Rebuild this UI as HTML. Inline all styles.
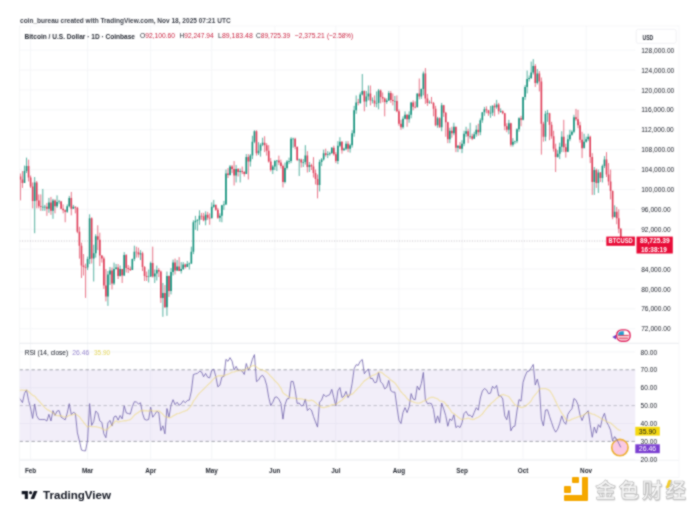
<!DOCTYPE html>
<html><head><meta charset="utf-8"><style>
html,body{margin:0;padding:0;background:#fff;}
body{width:700px;height:515px;overflow:hidden;position:relative;}
svg{position:absolute;left:0;top:0;}
#w{position:absolute;left:0;top:0;width:700px;height:515px;filter:url(#bl);}
.wm{position:absolute;left:595.3px;top:481.4px;font-size:20.5px;line-height:1;white-space:nowrap;font-family:"Liberation Sans","Noto Sans CJK SC","WenQuanYi Zen Hei",sans-serif;font-weight:bold;color:#f6f6f6;letter-spacing:2.9px;-webkit-text-stroke:0.7px #bdbdbd;text-shadow:0.5px 1.2px 1.2px rgba(0,0,0,.28);}
.lg{position:absolute;background:#F5A800;border-radius:1px;}
</style></head><body><svg width="0" height="0" style="position:absolute"><filter id="bl" x="0" y="0" width="700" height="515" filterUnits="userSpaceOnUse" color-interpolation-filters="sRGB"><feConvolveMatrix order="3" kernelMatrix="1 2 1 2 8 2 1 2 1" divisor="20" edgeMode="duplicate"/></filter></svg><div id="w">
<svg width="700" height="515" viewBox="0 0 700 515" font-family="Liberation Sans, Arial, sans-serif">
<defs><clipPath id="pc"><rect x="19.5" y="26.0" width="615.8" height="434.3"/></clipPath></defs>
<line x1="30.6" y1="26.0" x2="30.6" y2="460.3" stroke="#F3F4F6" stroke-width="0.8"/>
<line x1="87.58" y1="26.0" x2="87.58" y2="460.3" stroke="#F3F4F6" stroke-width="0.8"/>
<line x1="150.67" y1="26.0" x2="150.67" y2="460.3" stroke="#F3F4F6" stroke-width="0.8"/>
<line x1="211.72" y1="26.0" x2="211.72" y2="460.3" stroke="#F3F4F6" stroke-width="0.8"/>
<line x1="274.8" y1="26.0" x2="274.8" y2="460.3" stroke="#F3F4F6" stroke-width="0.8"/>
<line x1="335.85" y1="26.0" x2="335.85" y2="460.3" stroke="#F3F4F6" stroke-width="0.8"/>
<line x1="398.94" y1="26.0" x2="398.94" y2="460.3" stroke="#F3F4F6" stroke-width="0.8"/>
<line x1="462.02" y1="26.0" x2="462.02" y2="460.3" stroke="#F3F4F6" stroke-width="0.8"/>
<line x1="523.07" y1="26.0" x2="523.07" y2="460.3" stroke="#F3F4F6" stroke-width="0.8"/>
<line x1="586.16" y1="26.0" x2="586.16" y2="460.3" stroke="#F3F4F6" stroke-width="0.8"/>
<line x1="19.5" y1="328.75" x2="635.3" y2="328.75" stroke="#F3F4F6" stroke-width="0.8"/>
<line x1="19.5" y1="308.85" x2="635.3" y2="308.85" stroke="#F3F4F6" stroke-width="0.8"/>
<line x1="19.5" y1="288.95" x2="635.3" y2="288.95" stroke="#F3F4F6" stroke-width="0.8"/>
<line x1="19.5" y1="269.05" x2="635.3" y2="269.05" stroke="#F3F4F6" stroke-width="0.8"/>
<line x1="19.5" y1="249.15" x2="635.3" y2="249.15" stroke="#F3F4F6" stroke-width="0.8"/>
<line x1="19.5" y1="229.25" x2="635.3" y2="229.25" stroke="#F3F4F6" stroke-width="0.8"/>
<line x1="19.5" y1="209.35" x2="635.3" y2="209.35" stroke="#F3F4F6" stroke-width="0.8"/>
<line x1="19.5" y1="189.45" x2="635.3" y2="189.45" stroke="#F3F4F6" stroke-width="0.8"/>
<line x1="19.5" y1="169.55" x2="635.3" y2="169.55" stroke="#F3F4F6" stroke-width="0.8"/>
<line x1="19.5" y1="149.65" x2="635.3" y2="149.65" stroke="#F3F4F6" stroke-width="0.8"/>
<line x1="19.5" y1="129.75" x2="635.3" y2="129.75" stroke="#F3F4F6" stroke-width="0.8"/>
<line x1="19.5" y1="109.85" x2="635.3" y2="109.85" stroke="#F3F4F6" stroke-width="0.8"/>
<line x1="19.5" y1="89.95" x2="635.3" y2="89.95" stroke="#F3F4F6" stroke-width="0.8"/>
<line x1="19.5" y1="70.05" x2="635.3" y2="70.05" stroke="#F3F4F6" stroke-width="0.8"/>
<line x1="19.5" y1="50.15" x2="635.3" y2="50.15" stroke="#F3F4F6" stroke-width="0.8"/>
<line x1="19.5" y1="351.9" x2="635.3" y2="351.9" stroke="#F3F4F6" stroke-width="0.8"/>
<line x1="19.5" y1="387.7" x2="635.3" y2="387.7" stroke="#F3F4F6" stroke-width="0.8"/>
<line x1="19.5" y1="423.5" x2="635.3" y2="423.5" stroke="#F3F4F6" stroke-width="0.8"/>
<line x1="19.5" y1="459.3" x2="635.3" y2="459.3" stroke="#F3F4F6" stroke-width="0.8"/>
<rect x="19.5" y="369.8" width="615.8" height="71.6" fill="#7E57C2" fill-opacity="0.1"/>
<line x1="19.5" y1="369.8" x2="635.3" y2="369.8" stroke="#8A8D96" stroke-opacity="0.85" stroke-width="0.9" stroke-dasharray="3.4 2.6"/>
<line x1="19.5" y1="405.6" x2="635.3" y2="405.6" stroke="#8A8D96" stroke-opacity="0.55" stroke-width="0.9" stroke-dasharray="3.4 2.6"/>
<line x1="19.5" y1="441.4" x2="635.3" y2="441.4" stroke="#8A8D96" stroke-opacity="0.85" stroke-width="0.9" stroke-dasharray="3.4 2.6"/>
<line x1="19.5" y1="241" x2="635.3" y2="241" stroke="#A9A3AD" stroke-width="0.8" stroke-dasharray="1 1.6" stroke-opacity="0.9"/>
<g clip-path="url(#pc)">
<path d="M24.5 165.57V182.98M26.53 157.61V173.03M34.67 177.01V233.23M42.81 188.95V210.84M44.84 204.87V210.84M48.92 197.91V212.83M52.98 198.9V218.8M57.06 195.42V207.86M59.09 199.9V203.88M67.23 204.38V212.83M69.27 195.92V207.36M73.34 204.87V208.85M87.58 256.61V270.05M89.62 214.32V264.07M93.69 244.67V281.49M95.72 234.22V257.61M107.93 271.04V305.87M109.97 267.06V284.97M114.03 262.58V284.97M116.07 264.07V269.55M120.14 265.57V276.51M124.21 252.13V276.01M132.35 258.6V270.05M134.39 245.67V261.09M140.49 250.15V260.09M148.63 269.55V282.48M150.67 261.59V277.01M154.74 269.55V282.98M156.77 265.57V280.49M162.88 282.98V316.81M166.94 271.54V315.81M171.02 268.05V294.42M173.05 259.6V275.52M177.12 260.09V271.04M181.19 262.08V273.53M183.22 262.08V270.05M187.3 261.09V267.06M189.33 262.58V269.55M191.37 246.66V264.07M193.4 220.3V254.12M195.44 215.82V229.75M197.47 219.3V230.74M199.5 210.34V224.77M205.61 211.34V225.27M211.72 202.38V218.3M213.75 199.9V207.86M219.86 213.33V221.79M221.89 204.87V222.28M223.93 200.89V209.85M225.96 169.55V204.87M230.03 165.07V175.52M236.14 165.07V182.48M240.21 168.55V182.48M246.31 154.13V174.03M250.38 154.13V166.57M252.42 135.72V159.1M254.45 130.25V143.18M258.52 142.19V155.12M260.56 143.18V156.62M262.59 137.71V146.17M272.77 165.07V174.03M274.8 160.1V170.05M276.84 160.1V171.04M284.98 162.58V183.48M287.01 160.1V169.55M289.05 157.61V164.08M291.08 137.21V163.08M293.12 137.71V147.66M299.22 158.6V176.02M303.29 159.1V167.06M305.33 145.17V164.57M309.4 162.09V172.04M319.57 159.6V191.44M321.61 158.11V166.07M323.64 149.65V160.59M327.71 151.14V158.11M329.75 151.64V155.62M331.78 147.16V153.63M337.89 141.19V164.08M339.92 137.21V147.16M343.99 147.66V150.65M346.03 141.19V150.15M350.1 143.68V152.63M352.13 130.25V147.66M354.17 105.87V136.72M356.2 95.42V113.83M360.27 92.44V103.88M362.31 74.03V95.42M366.38 90.95V106.87M368.41 85.47V100.4M372.48 97.41V103.38M376.55 91.44V107.36M378.59 88.95V109.35M386.73 98.41V103.88M388.76 90.95V100.9M394.87 95.92V110.84M403.01 116.32V128.75M405.04 111.34V119.3M409.11 111.34V122.78M411.15 101.89V118.31M417.25 93.43V107.36M421.32 88.46V98.9M423.36 71.54V95.42M429.46 100.4V103.88M437.6 116.82V127.76M441.67 102.88V131.24M449.81 127.76V143.18M453.88 122.78V135.22M457.95 145.17V152.14M462.02 140.2V153.13M464.06 130.75V146.17M466.09 126.77V136.72M470.16 122.78V138.7M474.23 131.74V138.7M476.27 125.27V136.72M480.34 118.31V135.22M482.37 112.34V122.78M484.41 106.87V115.82M490.51 105.87V117.81M492.55 105.37V115.82M496.62 99.9V108.85M500.69 108.36V112.83M508.83 119.8V134.23M512.89 138.21V146.67M514.93 140.69V144.18M516.97 128.26V143.18M519 117.31V131.74M523.07 96.92V120.3M525.11 84.97V99.9M527.14 70.55V93.43M529.18 75.52V81.49M531.21 61.59V79M533.25 59.1V74.53M537.32 69.05V84.48M545.46 110.84V141.19M547.49 109.85V121.79M557.67 150.15V157.61M559.7 142.68V159.1M561.74 131.24V152.14M567.84 134.72V152.14M569.88 129.75V141.19M571.91 130.25V135.72M573.95 114.82V133.23M584.12 133.73V146.17M586.16 136.72V142.68M588.19 133.73V141.19M594.3 167.06V194.92M598.37 169.55V192.93M602.44 164.57V182.48M604.47 156.12V168.06M614.65 205.37V216.32" stroke="#10907A" stroke-width="0.7" fill="none"/>
<path d="M20.43 173.53V200.4M22.46 171.04V187.96M28.57 159.6V181.49M30.6 175.52V187.96M32.64 182.48V208.35M36.7 180.99V208.35M38.74 194.42V208.35M40.78 194.42V210.84M46.88 202.88V215.82M50.95 196.91V214.82M55.02 199.4V213.33M61.12 200.89V209.35M63.16 204.38V213.33M65.19 209.35V222.28M71.3 191.94V215.32M75.37 206.37V213.33M77.41 206.86V233.23M79.44 226.76V258.6M81.47 242.68V278M83.51 254.12V275.52M85.55 263.58V297.9M91.65 217.31V263.58M97.75 225.27V250.15M99.79 232.73V266.06M101.83 255.12V262.58M103.86 256.61V288.95M105.9 269.05V301.39M112 267.56V289.45M118.11 264.07V279M122.18 269.55V282.98M126.25 254.12V272.53M128.28 265.07V273.03M130.31 266.56V271.04M136.42 246.66V257.61M138.46 247.66V257.61M142.53 251.64V271.04M144.56 266.06V280.99M146.59 271.54V280.99M152.7 246.66V277.51M158.81 268.05V277.01M160.84 270.54V302.88M164.91 284.97V307.85M168.98 275.52V296.91M175.09 258.6V274.52M179.16 257.11V271.04M185.26 263.58V268.55M201.54 212.83V219.8M203.58 212.83V221.29M207.65 211.84V219.8M209.68 213.33V224.77M215.78 204.87V210.84M217.82 207.86V218.8M228 168.06V178.01M232.06 165.07V173.03M234.1 161.09V185.47M238.17 168.06V176.52M242.24 166.57V174.03M244.28 171.04V176.52M248.34 154.13V179.5M256.49 130.25V155.62M264.62 136.22V152.14M266.66 143.18V155.62M268.7 145.17V162.58M270.73 158.11V171.54M278.87 155.62V165.07M280.91 159.6V168.55M282.94 164.57V187.46M295.15 137.71V149.15M297.19 146.67V161.09M301.26 158.6V167.56M307.36 151.14V172.53M311.43 163.58V170.05M313.47 157.11V177.51M315.5 169.55V184.47M317.54 174.52V198.4M325.68 148.65V156.62M333.82 145.67V155.62M335.85 152.14V163.08M341.96 141.19V153.63M348.06 141.19V152.14M358.24 98.9V105.37M364.34 90.45V111.34M370.45 85.47V105.37M374.52 95.42V106.87M380.62 89.45V103.38M382.66 92.44V102.39M384.69 97.41V116.32M390.8 90.95V102.88M392.83 93.43V105.37M396.9 95.42V112.34M398.94 109.35V125.77M400.97 119.8V129.75M407.08 114.33V126.77M413.18 100.4V110.35M415.22 101.39V108.36M419.29 78.51V99.4M425.39 68.06V103.88M427.43 93.93V105.87M431.5 96.92V103.88M433.53 101.89V116.32M435.57 105.87V126.27M439.64 117.31V127.76M443.71 104.88V116.82M445.74 111.84V136.72M447.78 121.79V143.18M451.85 126.77V137.71M455.92 126.77V152.14M459.99 142.19V149.15M468.13 128.75V143.18M472.2 133.73V140.2M478.3 123.78V135.72M486.44 106.37V113.33M488.48 109.85V115.82M494.58 103.38V116.32M498.65 102.88V114.33M502.72 110.35V114.33M504.76 112.83V130.25M506.79 123.28V132.24M510.86 122.78V146.67M521.04 115.82V126.27M535.28 64.08V86.97M539.35 71.05V91.44M541.38 77.51V154.62M543.42 121.79V141.69M549.53 112.83V140.2M551.56 121.79V138.7M553.6 130.75V151.64M555.63 143.68V172.04M563.77 119.8V152.14M565.81 143.68V157.61M575.98 108.85V120.8M578.02 109.85V128.26M580.05 121.79V142.68M582.09 131.74V158.11M590.23 135.72V163.08M592.26 153.13V194.92M596.33 168.55V187.96M600.4 172.04V181.99M606.51 152.14V177.01M608.54 163.08V185.47M610.58 169.55V199.4M612.61 190.45V219.3M616.68 206.86V224.28M618.72 209.35V233.23M620.75 228.02V243.26" stroke="#DE3A55" stroke-width="0.7" fill="none"/>
<path d="M23.7 171.04h1.6V182.98h-1.6ZM25.73 166.07h1.6V171.04h-1.6ZM33.87 182.48h1.6V200.89h-1.6ZM42.01 206.86h1.6V207.46h-1.6ZM44.05 206.86h1.6V207.46h-1.6ZM48.12 202.38h1.6V208.85h-1.6ZM52.19 200.4h1.6V210.84h-1.6ZM56.26 201.89h1.6V206.37h-1.6ZM58.29 201.39h1.6V201.99h-1.6ZM66.43 206.37h1.6V211.84h-1.6ZM68.47 197.91h1.6V206.37h-1.6ZM72.54 206.86h1.6V208.85h-1.6ZM86.78 259.1h1.6V267.56h-1.6ZM88.82 218.3h1.6V259.1h-1.6ZM92.89 253.13h1.6V258.6h-1.6ZM94.92 236.22h1.6V253.13h-1.6ZM107.13 274.52h1.6V296.41h-1.6ZM109.17 270.54h1.6V274.52h-1.6ZM113.23 269.05h1.6V283.48h-1.6ZM115.27 267.56h1.6V269.05h-1.6ZM119.34 269.05h1.6V276.01h-1.6ZM123.41 255.12h1.6V275.52h-1.6ZM131.55 259.1h1.6V270.05h-1.6ZM133.59 251.64h1.6V259.1h-1.6ZM139.69 253.13h1.6V254.62h-1.6ZM147.83 276.51h1.6V277.11h-1.6ZM149.87 263.08h1.6V276.51h-1.6ZM153.94 273.53h1.6V276.51h-1.6ZM155.97 270.05h1.6V273.53h-1.6ZM162.07 292.93h1.6V297.9h-1.6ZM166.14 276.01h1.6V307.36h-1.6ZM170.22 272.03h1.6V290.94h-1.6ZM172.25 262.58h1.6V272.03h-1.6ZM176.32 266.56h1.6V270.54h-1.6ZM180.39 269.05h1.6V271.04h-1.6ZM182.42 264.57h1.6V269.05h-1.6ZM186.5 264.07h1.6V267.06h-1.6ZM188.53 263.58h1.6V264.18h-1.6ZM190.56 251.64h1.6V263.58h-1.6ZM192.6 222.28h1.6V251.64h-1.6ZM194.63 220.79h1.6V222.28h-1.6ZM196.67 219.8h1.6V220.79h-1.6ZM198.7 215.82h1.6V219.8h-1.6ZM204.81 214.82h1.6V220.3h-1.6ZM210.91 206.86h1.6V218.3h-1.6ZM212.95 204.87h1.6V206.86h-1.6ZM219.06 215.82h1.6V217.81h-1.6ZM221.09 205.37h1.6V215.82h-1.6ZM223.12 204.38h1.6V205.37h-1.6ZM225.16 173.53h1.6V204.38h-1.6ZM229.23 166.57h1.6V175.02h-1.6ZM235.34 169.05h1.6V175.52h-1.6ZM239.41 171.04h1.6V172.04h-1.6ZM245.51 157.11h1.6V174.03h-1.6ZM249.58 155.62h1.6V161.59h-1.6ZM251.62 141.69h1.6V155.62h-1.6ZM253.65 131.24h1.6V141.69h-1.6ZM257.72 150.65h1.6V153.13h-1.6ZM259.75 144.67h1.6V150.65h-1.6ZM261.79 142.68h1.6V144.67h-1.6ZM271.97 166.57h1.6V170.05h-1.6ZM274 161.09h1.6V166.57h-1.6ZM276.04 160.59h1.6V161.19h-1.6ZM284.18 168.06h1.6V181.99h-1.6ZM286.21 161.59h1.6V168.06h-1.6ZM288.25 161.09h1.6V161.69h-1.6ZM290.28 138.7h1.6V161.09h-1.6ZM292.32 138.7h1.6V139.3h-1.6ZM298.42 159.6h1.6V160.2h-1.6ZM302.49 162.09h1.6V162.69h-1.6ZM304.53 155.62h1.6V162.09h-1.6ZM308.6 165.07h1.6V167.06h-1.6ZM318.77 162.09h1.6V184.97h-1.6ZM320.81 159.6h1.6V162.09h-1.6ZM322.84 153.13h1.6V159.6h-1.6ZM326.91 154.13h1.6V155.12h-1.6ZM328.95 153.13h1.6V154.13h-1.6ZM330.98 147.66h1.6V153.13h-1.6ZM337.09 145.67h1.6V161.09h-1.6ZM339.12 141.69h1.6V145.67h-1.6ZM343.19 148.65h1.6V150.15h-1.6ZM345.23 143.68h1.6V148.65h-1.6ZM349.3 145.17h1.6V148.65h-1.6ZM351.33 133.23h1.6V145.17h-1.6ZM353.37 110.35h1.6V133.23h-1.6ZM355.4 102.39h1.6V110.35h-1.6ZM359.47 94.43h1.6V102.88h-1.6ZM361.51 90.95h1.6V94.43h-1.6ZM365.58 96.42h1.6V101.39h-1.6ZM367.61 93.43h1.6V96.42h-1.6ZM371.68 100.4h1.6V101h-1.6ZM375.75 102.88h1.6V103.48h-1.6ZM377.79 90.45h1.6V102.88h-1.6ZM385.93 100.4h1.6V101.89h-1.6ZM387.96 92.93h1.6V100.4h-1.6ZM394.07 100.9h1.6V101.5h-1.6ZM402.21 118.8h1.6V127.26h-1.6ZM404.24 114.82h1.6V118.8h-1.6ZM408.31 114.82h1.6V119.3h-1.6ZM410.35 102.39h1.6V114.82h-1.6ZM416.45 93.43h1.6V107.36h-1.6ZM420.52 88.95h1.6V96.42h-1.6ZM422.56 73.53h1.6V88.95h-1.6ZM428.66 102.39h1.6V102.99h-1.6ZM436.8 118.31h1.6V125.27h-1.6ZM440.87 105.37h1.6V127.26h-1.6ZM449.01 130.75h1.6V139.2h-1.6ZM453.08 126.77h1.6V133.23h-1.6ZM457.15 145.67h1.6V147.66h-1.6ZM461.22 143.68h1.6V148.65h-1.6ZM463.26 133.73h1.6V143.68h-1.6ZM465.29 131.24h1.6V133.73h-1.6ZM469.36 136.22h1.6V136.82h-1.6ZM473.43 134.23h1.6V138.7h-1.6ZM475.47 129.75h1.6V134.23h-1.6ZM479.54 120.3h1.6V132.24h-1.6ZM481.57 112.34h1.6V120.3h-1.6ZM483.61 109.35h1.6V112.34h-1.6ZM489.71 112.83h1.6V113.43h-1.6ZM491.75 105.87h1.6V112.83h-1.6ZM495.82 104.38h1.6V107.36h-1.6ZM499.89 111.34h1.6V111.94h-1.6ZM508.03 123.28h1.6V129.75h-1.6ZM512.1 141.69h1.6V144.67h-1.6ZM514.13 141.19h1.6V141.79h-1.6ZM516.17 129.25h1.6V141.19h-1.6ZM518.2 118.31h1.6V129.25h-1.6ZM522.27 96.92h1.6V119.8h-1.6ZM524.31 86.97h1.6V96.92h-1.6ZM526.34 79h1.6V86.97h-1.6ZM528.38 78.01h1.6V79h-1.6ZM530.41 72.54h1.6V78.01h-1.6ZM532.45 66.07h1.6V72.54h-1.6ZM536.52 73.53h1.6V82.98h-1.6ZM544.66 113.83h1.6V136.72h-1.6ZM546.69 113.33h1.6V113.93h-1.6ZM556.87 153.63h1.6V157.11h-1.6ZM558.9 146.67h1.6V153.63h-1.6ZM560.94 136.72h1.6V146.67h-1.6ZM567.04 139.2h1.6V151.64h-1.6ZM569.08 134.72h1.6V139.2h-1.6ZM571.11 131.74h1.6V134.72h-1.6ZM573.15 117.31h1.6V131.74h-1.6ZM583.32 141.69h1.6V148.16h-1.6ZM585.36 139.2h1.6V141.69h-1.6ZM587.39 136.72h1.6V139.2h-1.6ZM593.5 170.05h1.6V181.99h-1.6ZM597.57 172.53h1.6V182.98h-1.6ZM601.64 166.07h1.6V178.01h-1.6ZM603.67 159.6h1.6V166.07h-1.6ZM613.85 211.84h1.6V217.31h-1.6Z" fill="#10907A"/>
<path d="M19.62 176.52h1.6V179.5h-1.6ZM21.66 179.5h1.6V182.98h-1.6ZM27.77 166.07h1.6V177.51h-1.6ZM29.8 177.51h1.6V186.47h-1.6ZM31.84 186.47h1.6V200.89h-1.6ZM35.91 182.48h1.6V200.4h-1.6ZM37.94 200.4h1.6V206.37h-1.6ZM39.98 206.37h1.6V206.97h-1.6ZM46.08 206.86h1.6V208.85h-1.6ZM50.15 202.38h1.6V210.84h-1.6ZM54.22 200.4h1.6V206.37h-1.6ZM60.33 201.39h1.6V208.85h-1.6ZM62.36 208.85h1.6V210.34h-1.6ZM64.39 210.34h1.6V211.84h-1.6ZM70.5 197.91h1.6V208.85h-1.6ZM74.57 206.86h1.6V207.86h-1.6ZM76.61 207.86h1.6V231.74h-1.6ZM78.64 231.74h1.6V245.67h-1.6ZM80.67 245.67h1.6V265.57h-1.6ZM82.71 265.57h1.6V267.06h-1.6ZM84.75 267.06h1.6V267.66h-1.6ZM90.85 218.3h1.6V258.6h-1.6ZM96.95 236.22h1.6V239.7h-1.6ZM98.99 239.7h1.6V255.62h-1.6ZM101.03 255.62h1.6V258.6h-1.6ZM103.06 258.6h1.6V285.47h-1.6ZM105.1 285.47h1.6V296.41h-1.6ZM111.2 270.54h1.6V283.48h-1.6ZM117.31 267.56h1.6V276.01h-1.6ZM121.38 269.05h1.6V275.52h-1.6ZM125.45 255.12h1.6V268.05h-1.6ZM127.48 268.05h1.6V269.05h-1.6ZM129.51 269.05h1.6V270.05h-1.6ZM135.62 251.64h1.6V252.24h-1.6ZM137.66 252.13h1.6V254.62h-1.6ZM141.72 253.13h1.6V267.06h-1.6ZM143.76 267.06h1.6V276.01h-1.6ZM145.79 276.01h1.6V277.01h-1.6ZM151.9 263.08h1.6V276.51h-1.6ZM158 270.05h1.6V271.54h-1.6ZM160.04 271.54h1.6V297.9h-1.6ZM164.11 292.93h1.6V307.36h-1.6ZM168.18 276.01h1.6V290.94h-1.6ZM174.28 262.58h1.6V270.54h-1.6ZM178.35 266.56h1.6V271.04h-1.6ZM184.46 264.57h1.6V267.06h-1.6ZM200.74 215.82h1.6V216.42h-1.6ZM202.78 216.32h1.6V220.3h-1.6ZM206.84 214.82h1.6V217.81h-1.6ZM208.88 217.81h1.6V218.41h-1.6ZM214.98 204.87h1.6V209.85h-1.6ZM217.02 209.85h1.6V217.81h-1.6ZM227.19 173.53h1.6V175.02h-1.6ZM231.26 166.57h1.6V169.05h-1.6ZM233.3 169.05h1.6V175.52h-1.6ZM237.37 169.05h1.6V172.04h-1.6ZM241.44 171.04h1.6V172.04h-1.6ZM243.47 172.04h1.6V174.03h-1.6ZM247.54 157.11h1.6V161.59h-1.6ZM255.69 131.24h1.6V153.13h-1.6ZM263.82 142.68h1.6V145.17h-1.6ZM265.86 145.17h1.6V150.65h-1.6ZM267.9 150.65h1.6V161.59h-1.6ZM269.93 161.59h1.6V170.05h-1.6ZM278.07 160.59h1.6V162.58h-1.6ZM280.11 162.58h1.6V166.07h-1.6ZM282.14 166.07h1.6V181.99h-1.6ZM294.35 138.7h1.6V146.67h-1.6ZM296.39 146.67h1.6V160.1h-1.6ZM300.46 159.6h1.6V162.58h-1.6ZM306.56 155.62h1.6V167.06h-1.6ZM310.63 165.07h1.6V166.57h-1.6ZM312.67 166.57h1.6V173.03h-1.6ZM314.7 173.03h1.6V179h-1.6ZM316.74 179h1.6V184.97h-1.6ZM324.88 153.13h1.6V155.12h-1.6ZM333.02 147.66h1.6V154.13h-1.6ZM335.05 154.13h1.6V161.09h-1.6ZM341.16 141.69h1.6V150.15h-1.6ZM347.26 143.68h1.6V148.65h-1.6ZM357.44 102.39h1.6V102.99h-1.6ZM363.54 90.95h1.6V101.39h-1.6ZM369.65 93.43h1.6V100.4h-1.6ZM373.72 100.4h1.6V103.38h-1.6ZM379.82 90.45h1.6V96.92h-1.6ZM381.86 96.92h1.6V98.41h-1.6ZM383.89 98.41h1.6V101.89h-1.6ZM390 92.93h1.6V99.9h-1.6ZM392.03 99.9h1.6V100.9h-1.6ZM396.1 100.9h1.6V111.34h-1.6ZM398.14 111.34h1.6V123.78h-1.6ZM400.17 123.78h1.6V127.26h-1.6ZM406.28 114.82h1.6V119.3h-1.6ZM412.38 102.39h1.6V106.87h-1.6ZM414.42 106.87h1.6V107.47h-1.6ZM418.49 93.43h1.6V96.42h-1.6ZM424.59 73.53h1.6V98.41h-1.6ZM426.63 98.41h1.6V102.88h-1.6ZM430.7 102.39h1.6V102.99h-1.6ZM432.73 102.88h1.6V108.85h-1.6ZM434.77 108.85h1.6V125.27h-1.6ZM438.84 118.31h1.6V127.26h-1.6ZM442.91 105.37h1.6V112.83h-1.6ZM444.94 112.83h1.6V122.29h-1.6ZM446.98 122.29h1.6V139.2h-1.6ZM451.05 130.75h1.6V133.23h-1.6ZM455.12 126.77h1.6V147.66h-1.6ZM459.19 145.67h1.6V148.65h-1.6ZM467.33 131.24h1.6V136.22h-1.6ZM471.4 136.22h1.6V138.7h-1.6ZM477.5 129.75h1.6V132.24h-1.6ZM485.64 109.35h1.6V110.35h-1.6ZM487.68 110.35h1.6V113.33h-1.6ZM493.78 105.87h1.6V107.36h-1.6ZM497.85 104.38h1.6V111.34h-1.6ZM501.92 111.34h1.6V113.33h-1.6ZM503.96 113.33h1.6V126.27h-1.6ZM505.99 126.27h1.6V129.75h-1.6ZM510.06 123.28h1.6V144.67h-1.6ZM520.24 118.31h1.6V119.8h-1.6ZM534.48 66.07h1.6V82.98h-1.6ZM538.55 73.53h1.6V81.49h-1.6ZM540.59 81.49h1.6V123.78h-1.6ZM542.62 123.78h1.6V136.72h-1.6ZM548.73 113.33h1.6V124.78h-1.6ZM550.76 124.78h1.6V136.22h-1.6ZM552.8 136.22h1.6V148.65h-1.6ZM554.83 148.65h1.6V157.11h-1.6ZM562.97 136.72h1.6V147.16h-1.6ZM565.01 147.16h1.6V151.64h-1.6ZM575.18 117.31h1.6V119.3h-1.6ZM577.22 119.3h1.6V125.27h-1.6ZM579.25 125.27h1.6V139.7h-1.6ZM581.29 139.7h1.6V148.16h-1.6ZM589.43 136.72h1.6V157.11h-1.6ZM591.46 157.11h1.6V181.99h-1.6ZM595.53 170.05h1.6V182.98h-1.6ZM599.6 172.53h1.6V178.01h-1.6ZM605.71 159.6h1.6V174.52h-1.6ZM607.74 174.52h1.6V181.49h-1.6ZM609.78 181.49h1.6V190.94h-1.6ZM611.81 190.94h1.6V217.31h-1.6ZM615.88 211.84h1.6V218.3h-1.6ZM617.92 218.3h1.6V228.75h-1.6ZM619.95 228.75h1.6V240.57h-1.6Z" fill="#DE3A55"/>
</g>
<circle cx="619.9" cy="447.6" r="8.2" fill="#F9C3E0" fill-opacity="0.9" stroke="#EDB034" stroke-width="1.6"/>
<polyline clip-path="url(#pc)" points="18.39,396.9 20.43,399.5 22.46,402.59 24.5,393.39 26.53,389.87 28.57,400.54 30.6,407.98 32.64,418.45 34.67,403.95 36.7,415.73 38.74,419.25 40.78,419.55 42.81,419.55 44.84,419.55 46.88,421.02 48.92,414.34 50.95,420.99 52.98,410.64 55.02,415.47 57.06,411.08 59.09,410.58 61.12,417.2 63.16,418.49 65.19,419.84 67.23,413.11 69.27,403.67 71.3,414.59 73.34,412.34 75.37,413.35 77.41,432.9 79.44,441.02 81.47,450.07 83.51,450.67 85.55,450.88 87.58,440.07 89.62,403.61 91.65,425.41 93.69,421.73 95.72,411.08 97.75,412.92 99.79,420.9 101.83,422.33 103.86,433.77 105.9,437.73 107.93,422.89 109.97,420.4 112,426.04 114.03,416.9 116.07,415.97 118.11,420.17 120.14,415.49 122.18,418.91 124.21,405.81 126.25,412.96 128.28,413.5 130.31,414.08 132.35,406.53 134.39,401.69 136.42,402.05 138.46,403.93 140.49,402.8 142.53,413.38 144.56,419.39 146.59,420.05 148.63,419.56 150.67,407.18 152.7,417.22 154.74,414.53 156.77,411.35 158.81,412.58 160.84,430.62 162.88,425.75 164.91,433.88 166.94,408.53 168.98,417.13 171.02,405.07 173.05,399.69 175.09,404.65 177.12,402.24 179.16,405.2 181.19,403.86 183.22,400.78 185.26,402.72 187.3,400.47 189.33,400.08 191.37,391.1 193.4,374.55 195.44,373.85 197.47,373.36 199.5,371.33 201.54,371.92 203.58,376.75 205.61,373.42 207.65,377.22 209.68,377.87 211.72,370.39 213.75,369.18 215.78,376.28 217.82,386.81 219.86,385.16 221.89,377.12 223.93,376.4 225.96,359.37 228,361.34 230.03,357.66 232.06,361.11 234.1,369.91 236.14,366.36 238.17,370.45 240.21,369.84 242.24,371.34 244.28,374.46 246.31,363.52 248.34,370.19 250.38,366.52 252.42,359.17 254.45,354.63 256.49,381.61 258.52,380.1 260.56,376.52 262.59,375.33 264.62,378.42 266.66,385.16 268.7,397.31 270.73,405.55 272.77,402.33 274.8,397.38 276.84,396.92 278.87,399.23 280.91,403.3 282.94,419.17 284.98,404.73 287.01,398.93 289.05,398.49 291.08,381.41 293.12,381.41 295.15,390.36 297.19,403.47 299.22,403.04 301.26,405.9 303.29,405.4 305.33,398.96 307.36,410.57 309.4,408.48 311.43,410.01 313.47,416.45 315.5,421.95 317.54,427.08 319.57,402.17 321.61,399.97 323.64,394.36 325.68,396.54 327.71,395.62 329.75,394.64 331.78,389.32 333.82,397.72 335.85,405.93 337.89,390.89 339.92,387.56 341.96,397.5 343.99,396.09 346.03,391.43 348.06,397.55 350.1,394.08 352.13,383.47 354.17,368.7 356.2,364.71 358.24,365.37 360.27,361.18 362.31,359.54 364.34,373.79 366.38,370.84 368.41,369.09 370.45,378.47 372.48,378.47 374.52,382.63 376.55,382.21 378.59,372.54 380.62,381.82 382.66,383.91 384.69,388.84 386.73,387.38 388.76,380.43 390.8,390.66 392.83,392.08 394.87,392.08 396.9,406.66 398.94,420.25 400.97,423.56 403.01,412.41 405.04,407.6 407.08,412.59 409.11,407 411.15,393.58 413.18,399.08 415.22,399.7 417.25,386.11 419.29,390.05 421.32,383.49 423.36,372.38 425.39,399.7 427.43,403.65 429.46,403.22 431.5,403.7 433.53,409.53 435.57,423.14 437.6,415.89 439.64,422.68 441.67,403.06 443.71,408.88 445.74,415.74 447.78,426.28 449.81,418.93 451.85,420.5 453.88,414.78 455.92,427.65 457.95,425.84 459.99,427.6 462.02,422.74 464.06,413.57 466.09,411.36 468.13,415.25 470.16,415.25 472.2,417.35 474.23,412.45 476.27,407.68 478.3,410.19 480.34,398.01 482.37,391.04 484.41,388.55 486.44,389.8 488.48,393.66 490.51,393.16 492.55,386.24 494.58,388.45 496.62,385.42 498.65,395.86 500.69,395.86 502.72,398.9 504.76,415.86 506.79,419.71 508.83,410.53 510.86,430.83 512.89,426.83 514.93,426.14 516.97,410.93 519,399.54 521.04,401.19 523.07,382.26 525.11,376.01 527.14,371.51 529.18,370.95 531.21,367.88 533.25,364.44 535.28,385.06 537.32,379.08 539.35,387.54 541.38,419.21 543.42,425.92 545.46,410.09 547.49,409.77 549.53,416.34 551.56,422.36 553.6,428.34 555.63,432.13 557.67,429.28 559.7,423.59 561.74,415.88 563.77,421.83 565.81,424.28 567.84,414.43 569.88,411.08 571.91,408.81 573.95,398.56 575.98,400.12 578.02,404.83 580.05,415.16 582.09,420.54 584.12,415.05 586.16,412.95 588.19,410.77 590.23,424.71 592.26,437.27 594.3,427.04 596.33,433.14 598.37,424.67 600.4,427.43 602.44,418.04 604.47,413.26 606.51,421.8 608.54,425.46 610.58,430.19 612.61,441.19 614.65,436.62 616.68,439.22 618.72,443.22 620.75,447.39" fill="none" stroke="#7568AE" stroke-opacity="0.9" stroke-width="0.95" stroke-linejoin="round"/>
<polyline clip-path="url(#pc)" points="18.39,391.19 20.43,390.21 22.46,390.08 24.5,390.31 26.53,390.11 28.57,391.55 30.6,393.57 32.64,395.3 34.67,396.19 36.7,398.74 38.74,400.79 40.78,403.03 42.81,405.33 44.84,407.63 46.88,409.35 48.92,410.41 50.95,411.73 52.98,412.96 55.02,414.79 57.06,415.54 59.09,415.73 61.12,415.64 63.16,416.68 65.19,416.97 67.23,416.53 69.27,415.4 71.3,415.04 73.34,414.53 75.37,413.98 77.41,415.3 79.44,416.73 81.47,419.55 83.51,422.06 85.55,424.91 87.58,427.01 89.62,426.04 91.65,426.54 93.69,426.67 95.72,426.53 97.75,427.19 99.79,427.64 101.83,428.35 103.86,429.81 105.9,430.16 107.93,428.86 109.97,426.74 112,424.98 114.03,422.55 116.07,420.83 118.11,422.02 120.14,421.31 122.18,421.11 124.21,420.73 126.25,420.73 128.28,420.2 130.31,419.62 132.35,417.67 134.39,415.1 136.42,413.61 138.46,412.43 140.49,410.77 142.53,410.52 144.56,410.76 146.59,410.75 148.63,411.05 150.67,410.21 152.7,411.02 154.74,411.13 156.77,410.98 158.81,410.87 160.84,412.59 162.88,414.31 164.91,416.58 166.94,416.91 168.98,417.94 171.02,417.34 173.05,415.94 175.09,414.84 177.12,413.6 179.16,413.46 181.19,412.5 183.22,411.52 185.26,410.91 187.3,410.04 189.33,407.86 191.37,405.39 193.4,401.15 195.44,398.67 197.47,395.54 199.5,393.13 201.54,391.15 203.58,389.16 205.61,387.1 207.65,385.1 209.68,383.24 211.72,381.07 213.75,378.68 215.78,376.95 217.82,376 219.86,375.58 221.89,375.76 223.93,375.94 225.96,374.94 228,374.23 230.03,373.21 232.06,372.09 234.1,371.84 236.14,371.07 238.17,370.54 240.21,370.5 242.24,370.65 244.28,370.52 246.31,368.86 248.34,367.79 250.38,367.03 252.42,365.8 254.45,365.46 256.49,366.91 258.52,368.52 260.56,369.62 262.59,370 264.62,370.87 266.66,371.92 268.7,373.88 270.73,376.32 272.77,378.31 274.8,380.73 276.84,382.64 278.87,384.98 280.91,388.13 282.94,392.74 284.98,394.39 287.01,395.74 289.05,397.3 291.08,397.74 293.12,397.95 295.15,398.32 297.19,398.76 299.22,398.58 301.26,398.84 303.29,399.41 305.33,399.56 307.36,400.37 309.4,400.74 311.43,400.08 313.47,400.92 315.5,402.57 317.54,404.61 319.57,406.09 321.61,407.42 323.64,407.7 325.68,407.21 327.71,406.68 329.75,405.87 331.78,404.72 333.82,404.63 335.85,404.3 337.89,403.05 339.92,401.44 341.96,400.09 343.99,398.24 346.03,395.7 348.06,395.37 350.1,394.94 352.13,394.17 354.17,392.18 356.2,389.97 358.24,387.88 360.27,385.87 362.31,383.14 364.34,380.85 366.38,379.42 368.41,378.1 370.45,376.74 372.48,375.48 374.52,374.85 376.55,373.75 378.59,372.22 380.62,372.1 382.66,373.18 384.69,374.91 386.73,376.48 388.76,377.85 390.8,380.08 392.83,381.38 394.87,382.9 396.9,385.58 398.94,388.57 400.97,391.79 403.01,393.92 405.04,395.73 407.08,398.59 409.11,400.39 411.15,401.08 413.18,401.81 415.22,402.69 417.25,403.1 419.29,403.05 421.32,402.44 423.36,401.03 425.39,400.54 427.43,399.35 429.46,397.9 431.5,397.27 433.53,397.41 435.57,398.17 437.6,398.8 439.64,400.88 441.67,401.16 443.71,401.82 445.74,403.94 447.78,406.52 449.81,409.06 451.85,412.49 453.88,413.57 455.92,415.28 457.95,416.9 459.99,418.61 462.02,419.55 464.06,418.87 466.09,418.54 468.13,418.01 470.16,418.88 472.2,419.49 474.23,419.25 476.27,417.93 478.3,417.3 480.34,415.69 482.37,414 484.41,411.21 486.44,408.63 488.48,406.21 490.51,404.09 492.55,402.14 494.58,400.51 496.62,398.37 498.65,396.99 500.69,395.46 502.72,394.49 504.76,395.07 506.79,395.75 508.83,396.65 510.86,399.49 512.89,402.22 514.93,404.82 516.97,406.05 519,406.51 521.04,407.58 523.07,407.13 525.11,406.46 527.14,404.72 529.18,402.94 531.21,400.73 533.25,397.05 535.28,394.58 537.32,392.33 539.35,389.24 541.38,388.7 543.42,388.68 545.46,388.62 547.49,389.35 549.53,390.43 551.56,393.3 553.6,397.04 555.63,401.37 557.67,405.53 559.7,409.51 561.74,413.19 563.77,415.81 565.81,419.04 567.84,420.96 569.88,420.38 571.91,419.16 573.95,418.33 575.98,417.65 578.02,416.82 580.05,416.31 582.09,415.75 584.12,414.53 586.16,413.37 588.19,412.45 590.23,413.08 592.26,414.18 594.3,414.38 596.33,415.72 598.37,416.69 600.4,418.02 602.44,419.41 604.47,420.35 606.51,421.56 608.54,422.3 610.58,422.98 612.61,424.85 614.65,426.54 616.68,428.57 618.72,429.9 620.75,430.62" fill="none" stroke="#EFD870" stroke-opacity="0.5" stroke-width="1.3" stroke-linejoin="round"/>
<g transform="translate(623.3,335.5)"><path d="M-11 1.6l3.8 -2.3v4.6z" fill="#6E3FC4"/><rect x="-6.6" y="-5.6" width="13.4" height="11.4" rx="5" fill="#fff" stroke="#E0245E" stroke-width="1.4"/><clipPath id="fl"><rect x="-5.2" y="-4.3" width="10.6" height="8.8" rx="4"/></clipPath><g clip-path="url(#fl)"><rect x="-6" y="-5" width="12" height="10" fill="#fff"/><rect x="-6" y="-0.6" width="12" height="1.3" fill="#E3435F"/><rect x="-6" y="2" width="12" height="1.3" fill="#E3435F"/><rect x="-6" y="4.2" width="12" height="1.3" fill="#E3435F"/><rect x="-6" y="-5" width="6.5" height="4.6" fill="#2A9ACB"/></g></g>
<circle cx="614.3" cy="439.4" r="1.5" fill="#fff" fill-opacity="0.6" stroke="#8E82B5" stroke-width="0.7"/>
<line x1="19.5" y1="343.3" x2="679.0" y2="343.3" stroke="#E4E6EB" stroke-width="0.8"/>
<line x1="19.5" y1="460.3" x2="679.0" y2="460.3" stroke="#EEF0F3" stroke-width="0.8"/>
<rect x="19.5" y="26.0" width="659.5" height="451.5" fill="none" stroke="#F3F4F6" stroke-width="0.7"/>
<text x="20" y="23.1" font-size="7.8" fill="#3a3e48" font-weight="bold" textLength="210.6" lengthAdjust="spacingAndGlyphs">coin_bureau created with TradingView.com, Nov 18, 2025 07:21 UTC</text>
<text x="24.5" y="38.5" font-size="7.9" fill="#262a33" font-weight="bold" textLength="110.5" lengthAdjust="spacingAndGlyphs">Bitcoin / U.S. Dollar · 1D · Coinbase</text>
<text x="140" y="38.3" font-size="7.6" fill="#262a33" textLength="5.21" lengthAdjust="spacingAndGlyphs">O</text>
<text x="145.21" y="38.3" font-size="7.6" fill="#C9223F" textLength="29.79" lengthAdjust="spacingAndGlyphs">92,100.60</text>
<text x="179.5" y="38.3" font-size="7.6" fill="#262a33" textLength="4.76" lengthAdjust="spacingAndGlyphs">H</text>
<text x="184.26" y="38.3" font-size="7.6" fill="#C9223F" textLength="29.34" lengthAdjust="spacingAndGlyphs">92,247.94</text>
<text x="218.1" y="38.3" font-size="7.6" fill="#262a33" textLength="3.86" lengthAdjust="spacingAndGlyphs">L</text>
<text x="221.96" y="38.3" font-size="7.6" fill="#C9223F" textLength="30.84" lengthAdjust="spacingAndGlyphs">89,183.48</text>
<text x="256" y="38.3" font-size="7.6" fill="#262a33" textLength="4.76" lengthAdjust="spacingAndGlyphs">C</text>
<text x="260.76" y="38.3" font-size="7.6" fill="#C9223F" textLength="29.34" lengthAdjust="spacingAndGlyphs">89,725.39</text>
<text x="294.8" y="38.3" font-size="7.6" fill="#C9223F" textLength="29.9" lengthAdjust="spacingAndGlyphs">−2,375.21</text>
<text x="327" y="38.3" font-size="7.6" fill="#C9223F" textLength="26" lengthAdjust="spacingAndGlyphs">(−2.58%)</text>
<text x="24.7" y="354.9" font-size="7.5" fill="#131722" textLength="43.5" lengthAdjust="spacingAndGlyphs">RSI (14, close)</text>
<text x="72.2" y="354.9" font-size="7.5" fill="#9888CF" textLength="17" lengthAdjust="spacingAndGlyphs">26.46</text>
<text x="94" y="354.9" font-size="7.5" fill="#E3D65C" textLength="16.2" lengthAdjust="spacingAndGlyphs">35.90</text>
<rect x="636.2" y="29.3" width="40" height="14" rx="2" fill="none" stroke="#EDEEF1" stroke-width="0.8"/>
<text x="642.4" y="40.4" font-size="7.2" fill="#2a2e38" font-weight="bold" textLength="11" lengthAdjust="spacingAndGlyphs">USD</text>
<text x="641.2" y="331.35" font-size="7.2" fill="#181c26" textLength="29.42" lengthAdjust="spacingAndGlyphs">72,000.00</text>
<text x="641.2" y="311.45" font-size="7.2" fill="#181c26" textLength="29.42" lengthAdjust="spacingAndGlyphs">76,000.00</text>
<text x="641.2" y="291.55" font-size="7.2" fill="#181c26" textLength="29.42" lengthAdjust="spacingAndGlyphs">80,000.00</text>
<text x="641.2" y="271.65" font-size="7.2" fill="#181c26" textLength="29.42" lengthAdjust="spacingAndGlyphs">84,000.00</text>
<text x="641.2" y="231.85" font-size="7.2" fill="#181c26" textLength="29.42" lengthAdjust="spacingAndGlyphs">92,000.00</text>
<text x="641.2" y="211.95" font-size="7.2" fill="#181c26" textLength="29.42" lengthAdjust="spacingAndGlyphs">96,000.00</text>
<text x="641.2" y="192.05" font-size="7.2" fill="#181c26" textLength="33.1" lengthAdjust="spacingAndGlyphs">100,000.00</text>
<text x="641.2" y="172.15" font-size="7.2" fill="#181c26" textLength="33.1" lengthAdjust="spacingAndGlyphs">104,000.00</text>
<text x="641.2" y="152.25" font-size="7.2" fill="#181c26" textLength="33.1" lengthAdjust="spacingAndGlyphs">108,000.00</text>
<text x="641.2" y="132.35" font-size="7.2" fill="#181c26" textLength="32.61" lengthAdjust="spacingAndGlyphs">112,000.00</text>
<text x="641.2" y="112.45" font-size="7.2" fill="#181c26" textLength="32.61" lengthAdjust="spacingAndGlyphs">116,000.00</text>
<text x="641.2" y="92.55" font-size="7.2" fill="#181c26" textLength="33.1" lengthAdjust="spacingAndGlyphs">120,000.00</text>
<text x="641.2" y="72.65" font-size="7.2" fill="#181c26" textLength="33.1" lengthAdjust="spacingAndGlyphs">124,000.00</text>
<text x="641.2" y="52.75" font-size="7.2" fill="#181c26" textLength="33.1" lengthAdjust="spacingAndGlyphs">128,000.00</text>
<text x="640.6" y="354.5" font-size="7.2" fill="#181c26" textLength="16.55" lengthAdjust="spacingAndGlyphs">80.00</text>
<text x="640.6" y="372.4" font-size="7.2" fill="#181c26" textLength="16.55" lengthAdjust="spacingAndGlyphs">70.00</text>
<text x="640.6" y="390.3" font-size="7.2" fill="#181c26" textLength="16.55" lengthAdjust="spacingAndGlyphs">60.00</text>
<text x="640.6" y="408.2" font-size="7.2" fill="#181c26" textLength="16.55" lengthAdjust="spacingAndGlyphs">50.00</text>
<text x="640.6" y="426.1" font-size="7.2" fill="#181c26" textLength="16.55" lengthAdjust="spacingAndGlyphs">40.00</text>
<text x="640.6" y="444" font-size="7.2" fill="#181c26" textLength="16.55" lengthAdjust="spacingAndGlyphs">30.00</text>
<text x="640.6" y="461.9" font-size="7.2" fill="#181c26" textLength="16.55" lengthAdjust="spacingAndGlyphs">20.00</text>
<text x="24.92" y="472.9" font-size="7.1" fill="#262a33" font-weight="bold" textLength="11.36" lengthAdjust="spacingAndGlyphs">Feb</text>
<text x="81.9" y="472.9" font-size="7.1" fill="#262a33" font-weight="bold" textLength="11.36" lengthAdjust="spacingAndGlyphs">Mar</text>
<text x="145.16" y="472.9" font-size="7.1" fill="#262a33" font-weight="bold" textLength="11" lengthAdjust="spacingAndGlyphs">Apr</text>
<text x="205.5" y="472.9" font-size="7.1" fill="#262a33" font-weight="bold" textLength="12.43" lengthAdjust="spacingAndGlyphs">May</text>
<text x="269.12" y="472.9" font-size="7.1" fill="#262a33" font-weight="bold" textLength="11.36" lengthAdjust="spacingAndGlyphs">Jun</text>
<text x="331.23" y="472.9" font-size="7.1" fill="#262a33" font-weight="bold" textLength="9.23" lengthAdjust="spacingAndGlyphs">Jul</text>
<text x="392.72" y="472.9" font-size="7.1" fill="#262a33" font-weight="bold" textLength="12.42" lengthAdjust="spacingAndGlyphs">Aug</text>
<text x="456.16" y="472.9" font-size="7.1" fill="#262a33" font-weight="bold" textLength="11.72" lengthAdjust="spacingAndGlyphs">Sep</text>
<text x="517.74" y="472.9" font-size="7.1" fill="#262a33" font-weight="bold" textLength="10.65" lengthAdjust="spacingAndGlyphs">Oct</text>
<text x="580.12" y="472.9" font-size="7.1" fill="#262a33" font-weight="bold" textLength="12.07" lengthAdjust="spacingAndGlyphs">Nov</text>
<rect x="606.3" y="236.6" width="28.6" height="9.2" fill="#E80C38"/>
<text x="608.6" y="243.4" font-size="6.6" fill="#fff" font-weight="bold" textLength="24.2" lengthAdjust="spacingAndGlyphs">BTCUSD</text>
<rect x="636.5" y="236.6" width="36.3" height="16.9" fill="#E80C38"/>
<text x="640" y="243" font-size="6.8" fill="#fff" font-weight="bold" textLength="29.8" lengthAdjust="spacingAndGlyphs">89,725.39</text>
<text x="641" y="251.5" font-size="6.8" fill="#fff" font-weight="bold" textLength="25.8" lengthAdjust="spacingAndGlyphs">16:38:19</text>
<rect x="635.3" y="426.8" width="24.5" height="8.8" fill="#F5D80F"/>
<text x="638.8" y="433.6" font-size="7.0" fill="#131722" textLength="17.4" lengthAdjust="spacingAndGlyphs">35.90</text>
<rect x="635.3" y="444.3" width="24.5" height="8.9" fill="#7B3FD1"/>
<text x="638.8" y="451.2" font-size="7.0" fill="#fff" textLength="17.4" lengthAdjust="spacingAndGlyphs">26.46</text>
<g transform="translate(21.7,491.1) scale(0.444)" fill="#131722"><path d="M14 18H7V7H0V0h14v18zM28 18h-8l7.5-18h8L28 18z"/><circle cx="20" cy="3.6" r="3.6"/></g>
<text x="43.1" y="499" font-size="10.8" fill="#131722" font-weight="bold" textLength="67.9" lengthAdjust="spacingAndGlyphs">TradingView</text>
</svg>
<div class="lg" style="left:582px;top:476.5px;width:5.5px;height:24.7px"></div>
<div class="lg" style="left:563.8px;top:494.8px;width:23.7px;height:6.4px"></div>
<div class="lg" style="left:572.4px;top:476.8px;width:7.1px;height:6.7px"></div>
<div class="lg" style="left:563.8px;top:485.8px;width:7px;height:7px"></div>
<div class="wm">金色财经</div>
<div style="position:absolute;left:666.6px;top:479.8px;width:2.6px;height:8.4px;background:#F3CC2A;transform:skewX(-18deg);border-radius:1px"></div>
</div></body></html>
